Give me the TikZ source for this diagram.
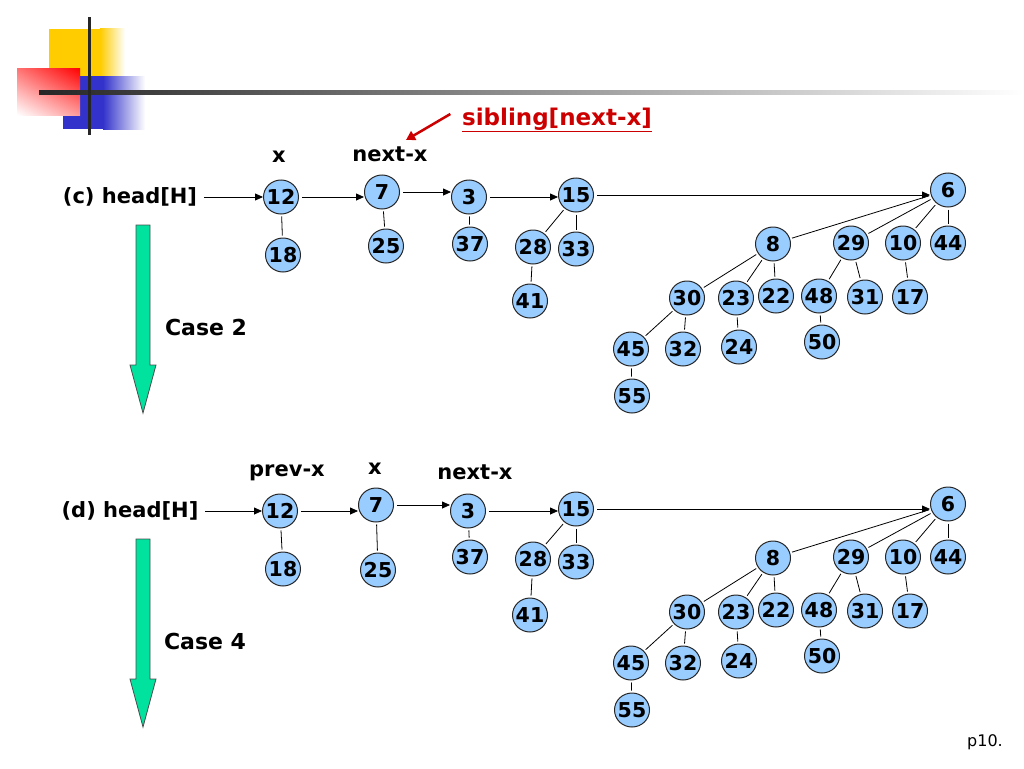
\documentclass[tikz,border=0pt]{standalone}
\usepackage{fontspec}
\setmainfont{DejaVu Sans}
\usetikzlibrary{shapes.geometric,arrows.meta,shadings}
\definecolor{keyblue}{RGB}{153,204,255}
\definecolor{casegreen}{RGB}{0,226,158}
\definecolor{sibred}{RGB}{204,0,0}
\definecolor{decoyellow}{RGB}{255,204,0}
\definecolor{decoblue}{RGB}{51,51,204}

\begin{document}
\begin{tikzpicture}[x=1pt,y=-1pt,line width=0.8pt]
	\tikzstyle{key}=[ellipse, draw=black!85, line width=1pt, fill=keyblue, minimum width=35pt, minimum height=34pt, inner sep=0pt, font=\fontsize{20.5}{20.5}\selectfont\bfseries]
	\tikzstyle{lbl}=[font=\fontsize{21}{21}\selectfont\bfseries]
	\tikzstyle{link}=[draw=black, shorten <=2pt, shorten >=2pt]
	\tikzstyle{ptr}=[-{Triangle[length=8pt,width=7pt]}, black, shorten <=3pt]
	\useasboundingbox (0,0) rectangle (1024,768);
	% corner decoration
	\fill[decoyellow] (49,29) rectangle (100,76);
	\shade[left color=decoyellow, right color=white] (100,29) rectangle (125,76);
	\fill[decoblue] (63,76) rectangle (103,129);
	\shade[left color=decoblue, right color=white] (103,76) rectangle (145,129);
	\shade[upper right=red, upper left=red!55!white, lower left=white, lower right=red!40!white] (17,68) rectangle (80,115);
	\shade[left color=black!85, right color=white] (39,90) rectangle (1024,94);
	\fill[black!85] (88,17) rectangle (91,135);
	% case arrows
	\foreach \dy in {0,314}
		\filldraw[fill=casegreen, draw=black!70, shift={(0,\dy)}] (136,225) -- (150,225) -- (150,365) -- (156,365) -- (143,413) -- (130,365) -- (136,365) -- cycle;
	\node[lbl, font=\fontsize{22}{22}\selectfont\bfseries] (case2) at (206,327) {Case 2};
	\node[lbl, font=\fontsize{22}{22}\selectfont\bfseries] (case4) at (205,641) {Case 4};
	% labels
	\node[lbl] (headc) at (130,197) {(c) head[H]};
	\node[lbl] (headd) at (130,511) {(d) head[H]};
	\node[lbl] (cx) at (279,157) {x};
	\node[lbl] (cnext) at (390,154) {next-x};
	\node[lbl] (dprev) at (287,473) {prev-x};
	\node[lbl] (dx) at (375,469) {x};
	\node[lbl] (dnext) at (475,472) {next-x};
	\node[font=\fontsize{23}{23}\selectfont\bfseries, text=sibred] (sib) at (557,120) {\underline{sibling[next-x]}};
	\coordinate (sibtip) at (406,140);
	\draw[sibred, line width=2.5pt, -{Triangle[length=9pt,width=10pt]}] ([shift={(-8,-6)}]sib.west) -- (sibtip);
	\node[font=\fontsize{16}{16}\selectfont] (pnum) at (985,742) {p10.};
	% (c)
	\foreach \n/\x/\y in {12/281/197, 18/283/255, 7/382/192, 25/386/246, 3/469/197, 37/470/244, 15/576/195, 28/533/247, 33/576/249, 41/530/301, 6/948/190, 8/773/244, 29/851/243, 10/903/243, 44/948/243, 30/687/298, 23/736/298, 22/776/296, 48/819/296, 31/865/297, 17/910/297, 45/631/349, 32/683/349, 24/739/347, 50/822/342, 55/632/396}
		\node[key] (c\n) at (\x,\y) {\makebox[0pt]{\n}};
	% (d)
	\foreach \n/\x/\y in {12/280/511, 18/283/569, 7/376/505, 25/378/570, 3/468/511, 37/470/557, 15/576/509, 28/533/559, 33/576/562, 41/530/615, 6/948/504, 8/773/558, 29/851/557, 10/903/557, 44/948/557, 30/687/612, 23/736/612, 22/776/610, 48/819/610, 31/865/611, 17/910/611, 45/631/663, 32/683/663, 24/739/661, 50/822/656, 55/632/710}
		\node[key] (d\n) at (\x,\y) {\makebox[0pt]{\n}};
	\foreach \r in {c,d} {
		\foreach \a/\b in {12/18, 7/25, 3/37, 15/28, 15/33, 28/41, 6/8, 6/29, 6/10, 6/44, 8/30, 8/23, 8/22, 30/45, 30/32, 45/55, 23/24, 29/48, 29/31, 48/50, 10/17}
			\draw[link] (\r\a) -- (\r\b);
		\foreach \a/\b in {12/7, 7/3, 3/15, 15/6}
			\draw[ptr] (\r\a) -- (\r\a -| \r\b.west);
		\draw[ptr] (head\r) -- (head\r -| \r12.west);
	}
\end{tikzpicture}
\end{document}
